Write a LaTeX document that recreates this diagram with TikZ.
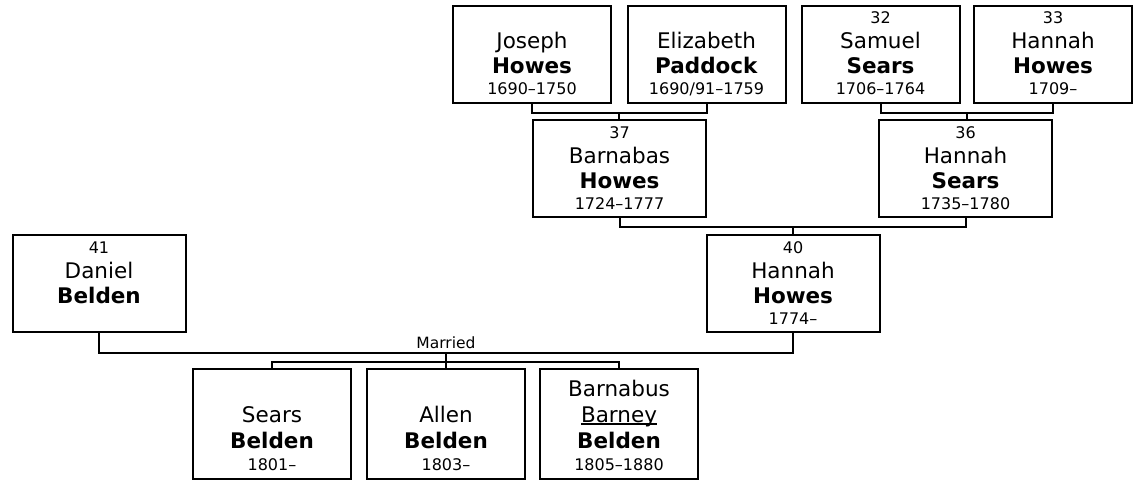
\documentclass[tikz,border=0pt]{standalone}
\usepackage{fontspec}
\setmainfont{DejaVu Sans}
\usetikzlibrary{calc}

\newcommand{\numtxt}[1]{{\fontsize{16}{18}\selectfont #1}}
\newcommand{\nick}[1]{\setbox0\hbox{#1}\rlap{\rule[-2.5pt]{\wd0}{1.3pt}}\box0}

\tikzset{
  person/.style={draw, line width=2pt, inner sep=0pt, minimum width=158pt, minimum height=97pt,
    align=center, font=\fontsize{21.5}{25}\selectfont},
  wide/.style={minimum width=173pt},
  child/.style={minimum height=110pt, font=\fontsize{21.5}{26}\selectfont},
  link/.style={line width=2pt}
}

\begin{document}
\begin{tikzpicture}[x=1pt,y=-1pt]
        \useasboundingbox (0,0) rectangle (1137,483);

        \node[person] (joseph) at (532,54) {\strut\\Joseph\\\textbf{Howes}\\[-4pt]\numtxt{1690--1750}\strut};
        \node[person] (elizabeth) at (706.5,54) {\strut\\Elizabeth\\\textbf{Paddock}\\[-4pt]\numtxt{1690/91--1759}\strut};
        \node[person] (samuel) at (880.5,54) {\strut\numtxt{32}\\Samuel\\\textbf{Sears}\\[-4pt]\numtxt{1706--1764}\strut};
        \node[person] (hannah) at (1053,54) {\strut\numtxt{33}\\Hannah\\\textbf{Howes}\\[-4pt]\numtxt{1709--}\strut};

        \node[person, wide] (barnabas) at (619.5,168.5) {\strut\numtxt{37}\\Barnabas\\\textbf{Howes}\\[-4pt]\numtxt{1724--1777}\strut};
        \node[person, wide] (hannahS) at (965.5,168.5) {\strut\numtxt{36}\\Hannah\\\textbf{Sears}\\[-4pt]\numtxt{1735--1780}\strut};

        \node[person, wide] (daniel) at (99,283.5) {\strut\numtxt{41}\\Daniel\\\textbf{Belden}\\[-4pt]\strut};
        \node[person, wide] (hannahH) at (793,283.5) {\strut\numtxt{40}\\Hannah\\\textbf{Howes}\\[-4pt]\numtxt{1774--}\strut};

        \node[person, child] (sears) at (272,424) {\rule{0pt}{26pt}\\Sears\\\textbf{Belden}\\[-4pt]\numtxt{1801--}\strut};
        \node[person, child] (allen) at (446,424) {\rule{0pt}{26pt}\\Allen\\\textbf{Belden}\\[-4pt]\numtxt{1803--}\strut};
        \node[person, child] (barnabus) at (619,424) {\rule{0pt}{26pt}Barnabus\\\nick{Barney}\\\textbf{Belden}\\[-4pt]\numtxt{1805--1880}\strut};

        \coordinate (m1) at ($(joseph.south)!.5!(elizabeth.south)+(0,9)$);
        \coordinate (m2) at ($(samuel.south)!.5!(hannah.south)+(0,9)$);
        \coordinate (m3) at ($(barnabas.south)!.5!(hannahS.south)+(0,9)$);
        \coordinate (m4) at ($(daniel.south)!.5!(hannahH.south)+(0,20)$);
        \coordinate (m5) at ($(m4)+(0,9)$);

        \draw[link] (joseph.south) |- (m1) -| (elizabeth.south);
        \draw[link] (m1) -- (m1 |- barnabas.north);
        \draw[link] (samuel.south) |- (m2) -| (hannah.south);
        \draw[link] (m2) -- (m2 |- hannahS.north);
        \draw[link] (barnabas.south) |- (m3) -| (hannahS.south);
        \draw[link] (m3) -- (m3 |- hannahH.north);
        \draw[link] (daniel.south) |- (m4) -| (hannahH.south);
        \node[above=4pt, inner sep=0pt, font=\fontsize{15.5}{18}\selectfont] (married) at (m4) {Married};
        \draw[link] (m4) -- (m5);
        \draw[link] (sears.north) |- (m5) -| (barnabus.north);
        \draw[link] (m5) -- (m5 |- allen.north);
      \end{tikzpicture}
\end{document}
